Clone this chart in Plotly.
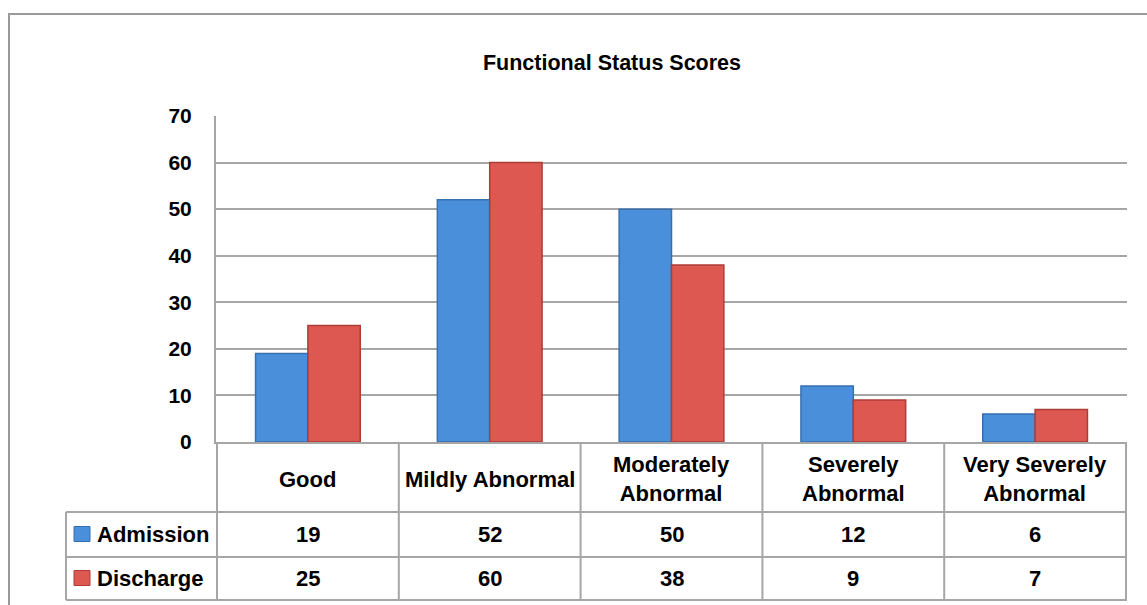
import plotly.graph_objects as go

# ---- data -------------------------------------------------------------
categories = ["Good", "Mildly Abnormal", "Moderately Abnormal",
              "Severely Abnormal", "Very Severely Abnormal"]
category_labels = ["Good", "Mildly Abnormal", "Moderately<br>Abnormal",
                   "Severely<br>Abnormal", "Very Severely<br>Abnormal"]
series_names = ["Admission", "Discharge"]
admission = [19, 52, 50, 12, 6]
discharge = [25, 60, 38, 9, 7]
y_ticks = [0, 10, 20, 30, 40, 50, 60, 70]
chart_title = "Functional Status Scores"

# ---- styling ----------------------------------------------------------
W, H = 1147, 605
ML, MR, MT, MB = 9, 0, 14, 0
FONT = "Liberation Sans, Arial, sans-serif"
FS = 22
GRID = "#a6a6a6"
fills = ["#4a8fda", "#dc5850"]
edges = ["#3670b0", "#ad3d36"]


def px_x(px):
    return (px - ML) / (W - ML - MR)


def px_y(py):
    return (H - MB - py) / (H - MT - MB)


# pixel frame of plot area and table rows
PLOT_L, PLOT_R, PLOT_T, PLOT_B = 216, 1127, 116, 442
ROW1_B, ROW2_B, ROW3_B = 512, 557, 600
TABLE_L = 66

fig = go.Figure()
for name, vals, fc, ec in zip(series_names, [admission, discharge], fills, edges):
    fig.add_trace(go.Bar(
        x=categories, y=vals, name=name,
        marker=dict(color=fc, line=dict(color=ec, width=1.5)),
        showlegend=False,
    ))

shapes = []
# outer chart border (right and bottom run off the canvas)
shapes.append(dict(type="rect", xref="paper", yref="paper",
                   x0=0, x1=1.05, y0=-0.1, y1=1,
                   line=dict(color="#9a9a9a", width=2)))

# data table grid: column boundaries on the category scale
n = len(categories)
for k in range(n + 1):
    shapes.append(dict(type="line", xref="x", yref="paper",
                       x0=k - 0.5, x1=k - 0.5,
                       y0=px_y(ROW3_B), y1=px_y(PLOT_B),
                       line=dict(color=GRID, width=2)))
shapes.append(dict(type="line", xref="paper", yref="paper",
                   x0=px_x(TABLE_L), x1=px_x(TABLE_L),
                   y0=px_y(ROW3_B), y1=px_y(ROW1_B),
                   line=dict(color=GRID, width=2)))
for py in [ROW1_B, ROW2_B, ROW3_B]:
    shapes.append(dict(type="line", xref="paper", yref="paper",
                       x0=px_x(TABLE_L), x1=px_x(PLOT_R),
                       y0=px_y(py), y1=px_y(py),
                       line=dict(color=GRID, width=2)))

annotations = []
# category header row
for cat, lab in zip(categories, category_labels):
    annotations.append(dict(xref="x", yref="paper", x=cat,
                            y=px_y((PLOT_B + ROW1_B) / 2 + 2),
                            text="<b>%s</b>" % lab, showarrow=False,
                            font=dict(family=FONT, size=FS, color="black"),
                            xanchor="center", yanchor="middle"))
# value rows with legend keys
row_centres = [(ROW1_B + ROW2_B) / 2, (ROW2_B + ROW3_B) / 2]
for name, vals, fc, ec, yc in zip(series_names, [admission, discharge],
                                  fills, edges, row_centres):
    shapes.append(dict(type="rect", xref="paper", yref="paper",
                       x0=px_x(74), x1=px_x(90),
                       y0=px_y(yc + 7), y1=px_y(yc - 8),
                       fillcolor=fc, line=dict(color=ec, width=1)))
    annotations.append(dict(xref="paper", yref="paper", x=px_x(95),
                            y=px_y(yc), text="<b>%s</b>" % name,
                            showarrow=False, xanchor="left", yanchor="middle",
                            font=dict(family=FONT, size=FS, color="black")))
    for cat, v in zip(categories, vals):
        annotations.append(dict(xref="x", yref="paper", x=cat, y=px_y(yc),
                                text="<b>%d</b>" % v, showarrow=False,
                                xanchor="center", yanchor="middle",
                                font=dict(family=FONT, size=FS, color="black")))

fig.update_layout(
    width=W, height=H, autosize=False,
    margin=dict(l=ML, r=MR, t=MT, b=MB, pad=0, autoexpand=False),
    paper_bgcolor="white", plot_bgcolor="white",
    barmode="group", bargap=0.424, bargroupgap=0,
    title=dict(text="<b>%s</b>" % chart_title, xref="paper", yref="container",
               x=px_x(612), y=1 - 62 / H, xanchor="center", yanchor="middle",
               font=dict(family=FONT, size=21.5, color="black")),
    xaxis=dict(domain=[px_x(PLOT_L), px_x(PLOT_R)], showticklabels=False,
               showgrid=False, showline=True, linecolor=GRID, linewidth=2,
               ticks="", zeroline=False, automargin=False),
    yaxis=dict(domain=[px_y(PLOT_B), px_y(PLOT_T)], range=[0, 70],
               tickvals=y_ticks, ticktext=["<b>%d</b>" % t for t in y_ticks],
               showgrid=True, gridcolor=GRID, gridwidth=2,
               showline=True, linecolor=GRID, linewidth=2,
               zeroline=False, ticks="", ticklabelstandoff=18,
               automargin=False,
               tickfont=dict(family=FONT, size=21, color="black")),
    shapes=shapes, annotations=annotations,
)

fig.write_html("out.html", config={"responsive": False})
